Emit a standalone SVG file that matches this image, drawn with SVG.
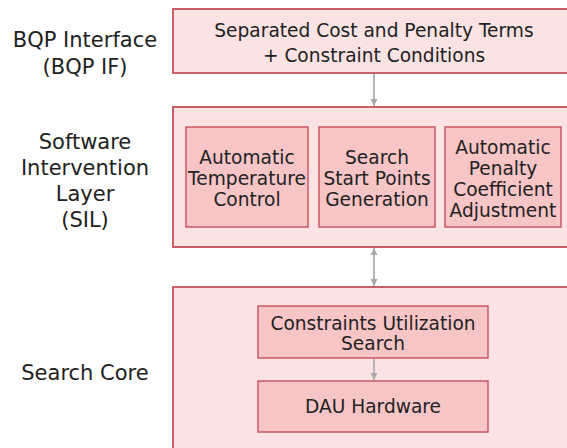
<svg xmlns="http://www.w3.org/2000/svg" width="567" height="448" viewBox="0 0 567 448">
<style>
.outer{fill:#fce3e3;stroke:#c5505a;stroke-width:1.8}
.inner{fill:#f7c5c6;stroke:#c5505a;stroke-width:1.4}
.t{font-family:"DejaVu Sans",sans-serif;font-size:18.6px;fill:#222;text-anchor:middle}
.lbl{font-family:"DejaVu Sans",sans-serif;font-size:21px;fill:#222;text-anchor:middle}
.conn{stroke:#b4b4b4;stroke-width:2;fill:none}
</style>
<defs>
<marker id="ah" markerWidth="8" markerHeight="8" refX="7" refY="4" orient="auto-start-reverse" markerUnits="userSpaceOnUse">
<path d="M0,0.5 L7,4 L0,7.5 Z" fill="#a9a9a9"/>
</marker>
</defs>
<rect width="567" height="448" fill="#fff"/>
<g id="labels">
<text class="lbl" x="85" y="47">BQP Interface</text>
<text class="lbl" x="85" y="74">(BQP IF)</text>
<text class="lbl" x="85" y="149">Software</text>
<text class="lbl" x="85" y="175">Intervention</text>
<text class="lbl" x="85" y="201">Layer</text>
<text class="lbl" x="85" y="227">(SIL)</text>
<text class="lbl" x="85" y="380">Search Core</text>
</g>
<g id="bqp">
<rect class="outer" x="173" y="9" width="410" height="64"/>
<text class="t" x="374" y="37">Separated Cost and Penalty Terms</text>
<text class="t" x="374" y="62">+ Constraint Conditions</text>
</g>
<g id="sil">
<rect class="outer" x="173" y="107" width="410" height="140"/>
</g>
<g id="atc">
<rect class="inner" x="186" y="127" width="122" height="100"/>
<text class="t" x="247" y="164">Automatic</text>
<text class="t" x="247" y="185">Temperature</text>
<text class="t" x="247" y="206">Control</text>
</g>
<g id="sspg">
<rect class="inner" x="319" y="127" width="116" height="100"/>
<text class="t" x="377" y="164">Search</text>
<text class="t" x="377" y="185">Start Points</text>
<text class="t" x="377" y="206">Generation</text>
</g>
<g id="apca">
<rect class="inner" x="445" y="127" width="116" height="100"/>
<text class="t" x="503" y="154">Automatic</text>
<text class="t" x="503" y="175">Penalty</text>
<text class="t" x="503" y="196">Coefficient</text>
<text class="t" x="503" y="217">Adjustment</text>
</g>
<g id="core">
<rect class="outer" x="173" y="287" width="410" height="200"/>
</g>
<g id="cus">
<rect class="inner" x="258" y="306" width="230" height="52"/>
<text class="t" x="373" y="330">Constraints Utilization</text>
<text class="t" x="373" y="350">Search</text>
</g>
<g id="dau">
<rect class="inner" x="258" y="381" width="230" height="51"/>
<text class="t" x="373" y="413">DAU Hardware</text>
</g>
<g id="connectors">
<line class="conn" x1="374" y1="74" x2="374" y2="106" marker-end="url(#ah)"/>
<line class="conn" x1="374" y1="248" x2="374" y2="286" marker-start="url(#ah)" marker-end="url(#ah)"/>
<line class="conn" x1="374" y1="359" x2="374" y2="380" marker-end="url(#ah)"/>
</g>
</svg>
